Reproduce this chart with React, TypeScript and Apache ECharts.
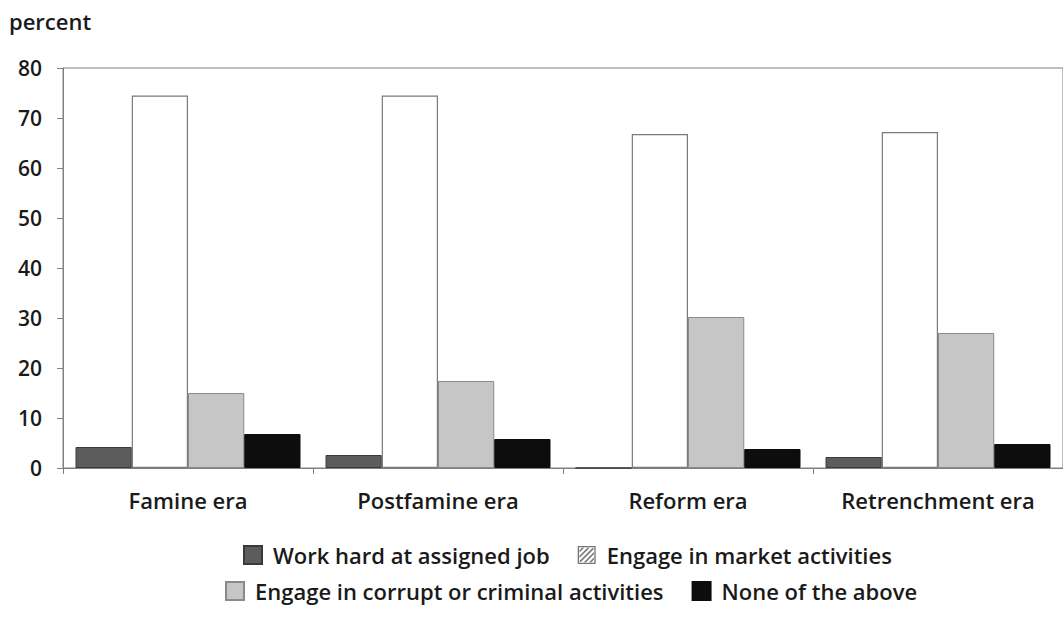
import React, { useEffect, useRef } from "react";
import * as echarts from "echarts";

const categories = ["Famine era", "Postfamine era", "Reform era", "Retrenchment era"];
const seriesNames = [
  "Work hard at assigned job",
  "Engage in market activities",
  "Engage in corrupt or criminal activities",
  "None of the above",
];
const workHard = [4.2, 2.6, 0, 2.2];
const market = [74.5, 74.5, 66.8, 67.2];
const corrupt = [15.0, 17.4, 30.2, 27.0];
const none = [6.8, 5.8, 3.8, 4.8];
const yTicks = { min: 0, max: 80, interval: 10 };

const FONT = "'Open Sans', 'Noto Sans', sans-serif";

const HATCH_ICON =
  "path://M0 0L20 0L20 20L0 20Z M1.5 1.5L1.5 18.5L18.5 18.5L18.5 1.5Z" +
  " M2 4.8L4.8 2L7.2 2L2 7.2Z" +
  " M2 10.8L10.8 2L13.2 2L2 13.2Z" +
  " M2 16.8L16.8 2L18 3.2L3.2 18Z" +
  " M6.8 18L18 6.8L18 9.2L9.2 18Z" +
  " M12.8 18L18 12.8L18 15.2L15.2 18Z";

export default function App() {
  const ref = useRef<HTMLDivElement>(null);
  useEffect(() => {
    if (!ref.current) return;
    const chart = echarts.init(ref.current, null, { renderer: "svg" });
    const textStyle = { fontFamily: FONT, fontWeight: 600, color: "#1a1a1a" };
    const legendText = { ...textStyle, fontSize: 22, padding: [0, 0, 0, 6] };
    const styles = [
      { color: "#5c5c5c", borderColor: "#3a3a3a", borderWidth: 1 },
      { color: "#ffffff", borderColor: "#7a7a7a", borderWidth: 1.2 },
      { color: "#c6c6c6", borderColor: "#8a8a8a", borderWidth: 1 },
      { color: "#0d0d0d", borderColor: "#0d0d0d", borderWidth: 1 },
    ];
    const dataSets = [workHard, market, corrupt, none];
    chart.setOption({
      animation: false,
      backgroundColor: "#ffffff",
      title: {
        text: "percent",
        left: 4,
        top: 5,
        textStyle: { ...textStyle, fontSize: 22 },
      },
      grid: {
        left: 63,
        top: 68,
        width: 1008,
        height: 400,
        show: true,
        borderColor: "#808080",
        borderWidth: 1,
        backgroundColor: "transparent",
      },
      legend: [
        {
          data: [
            { name: seriesNames[0], icon: "rect" },
            {
              name: seriesNames[1],
              icon: HATCH_ICON,
              itemStyle: { color: "#777777", borderWidth: 0 },
            },
          ],
          left: 238,
          top: 539,
          itemWidth: 18,
          itemHeight: 18,
          itemGap: 28,
          textStyle: legendText,
        },
        {
          data: [
            { name: seriesNames[2], icon: "rect" },
            { name: seriesNames[3], icon: "rect" },
          ],
          left: 220,
          top: 575,
          itemWidth: 18,
          itemHeight: 18,
          itemGap: 28,
          textStyle: legendText,
        },
      ],
      xAxis: {
        type: "category",
        data: categories,
        axisLine: { lineStyle: { color: "#808080", width: 1 } },
        axisTick: { show: true, length: 6, lineStyle: { color: "#808080" } },
        axisLabel: { ...textStyle, fontSize: 22, margin: 21, interval: 0 },
      },
      yAxis: {
        type: "value",
        min: yTicks.min,
        max: yTicks.max,
        interval: yTicks.interval,
        axisLine: { show: true, lineStyle: { color: "#808080", width: 1 } },
        axisTick: { show: true, length: 6, lineStyle: { color: "#808080" } },
        splitLine: { show: false },
        axisLabel: { ...textStyle, fontSize: 21, margin: 21 },
      },
      series: dataSets.map((d, i) => ({
        name: seriesNames[i],
        type: "bar",
        data: d,
        barGap: "0%",
        barCategoryGap: "10%",
        itemStyle: styles[i],
      })),
    });
    return () => chart.dispose();
  }, []);
  return (
    <div
      ref={ref}
      style={{ position: "fixed", left: 0, top: 0, width: 1063, height: 636 }}
    />
  );
}
